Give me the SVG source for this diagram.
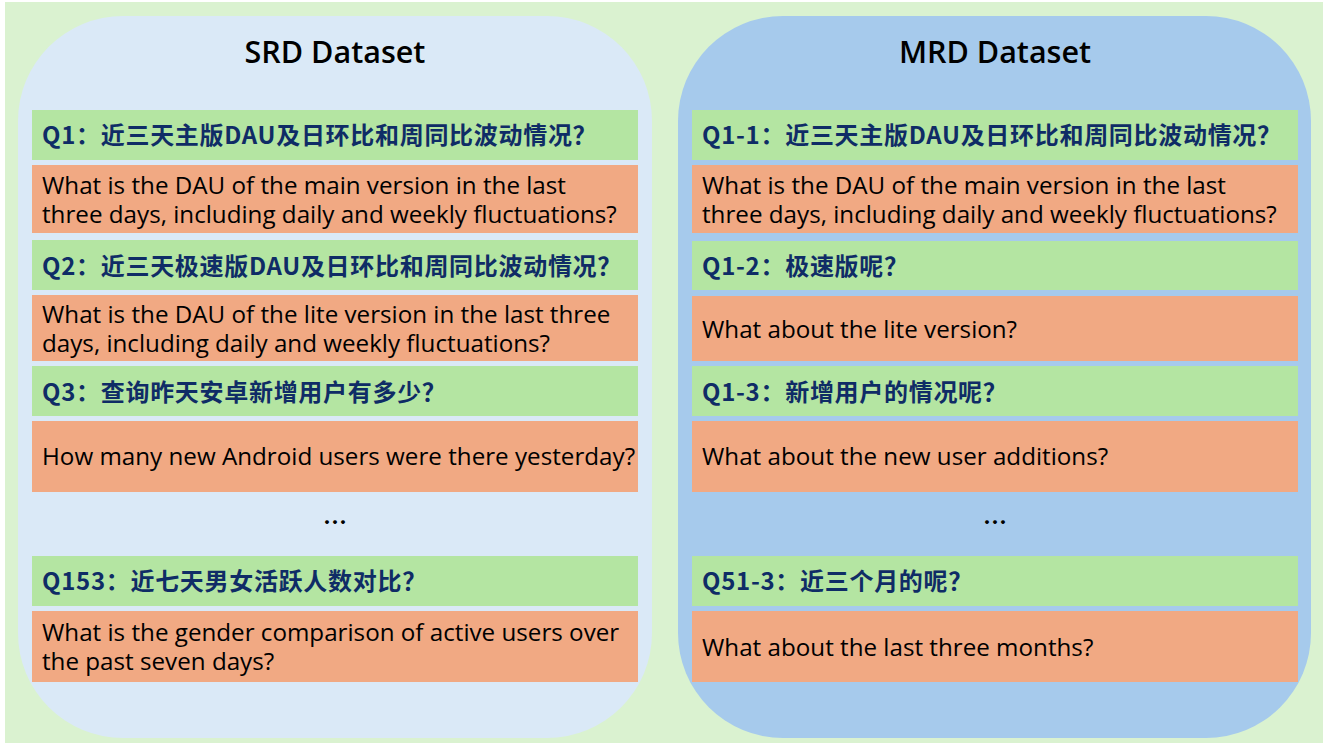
<svg xmlns="http://www.w3.org/2000/svg" width="1325" height="744" viewBox="0 0 1325 744">
<style>
text{font-family:"Noto Sans CJK SC","Noto Sans",sans-serif;}
.title{font-family:"Open Sans","Noto Sans CJK SC",sans-serif;font-size:30.5px;font-weight:600;fill:#000;text-anchor:middle;}
.q{fill:#B4E5A2;}
.a{fill:#F1A983;}
.qt{font-size:24px;font-weight:bold;fill:#0F2C66;letter-spacing:0.7px;}
.at{font-family:"Open Sans","Noto Sans CJK SC",sans-serif;font-size:24.2px;fill:#000;}
.dots{font-size:24px;font-weight:bold;fill:#000;text-anchor:middle;}
</style>
<rect x="0" y="0" width="1325" height="744" fill="#FFFFFF"/>
<rect x="5" y="2" width="1318" height="741" fill="#DAF2D0"/>
<g id="srd">
<rect x="18" y="16" width="634" height="722" rx="105" ry="105" fill="#DAE9F7"/>
<text class="title" x="335" y="63">SRD Dataset</text>
<g id="srd-q1"><rect class="q" x="32" y="110" width="606" height="50"/><text class="qt" x="42" y="144">Q1：近三天主版DAU及日环比和周同比波动情况？</text></g>
<g id="srd-a1"><rect class="a" x="32" y="165" width="606" height="68"/><text class="at"><tspan x="42" y="194">What is the DAU of the main version in the last</tspan><tspan x="42" y="223">three days, including daily and weekly fluctuations?</tspan></text></g>
<g id="srd-q2"><rect class="q" x="32" y="240" width="606" height="50"/><text class="qt" x="42" y="275">Q2：近三天极速版DAU及日环比和周同比波动情况？</text></g>
<g id="srd-a2"><rect class="a" x="32" y="295" width="606" height="66"/><text class="at"><tspan x="42" y="323">What is the DAU of the lite version in the last three</tspan><tspan x="42" y="352">days, including daily and weekly fluctuations?</tspan></text></g>
<g id="srd-q3"><rect class="q" x="32" y="366" width="606" height="50"/><text class="qt" x="42" y="401">Q3：查询昨天安卓新增用户有多少？</text></g>
<g id="srd-a3"><rect class="a" x="32" y="421" width="606" height="71"/><text class="at" x="42" y="465">How many new Android users were there yesterday?</text></g>
<text class="dots" x="335" y="531">…</text>
<g id="srd-q153"><rect class="q" x="32" y="556" width="606" height="50"/><text class="qt" x="42" y="590">Q153：近七天男女活跃人数对比？</text></g>
<g id="srd-a153"><rect class="a" x="32" y="611" width="606" height="71"/><text class="at"><tspan x="42" y="641">What is the gender comparison of active users over</tspan><tspan x="42" y="670">the past seven days?</tspan></text></g>
</g>
<g id="mrd">
<rect x="678" y="16" width="633" height="722" rx="105" ry="105" fill="#A6CAEC"/>
<text class="title" x="995" y="63">MRD Dataset</text>
<g id="mrd-q11"><rect class="q" x="692" y="110" width="606" height="50"/><text class="qt" x="702" y="144">Q1-1：近三天主版DAU及日环比和周同比波动情况？</text></g>
<g id="mrd-a11"><rect class="a" x="692" y="165" width="606" height="68"/><text class="at"><tspan x="702" y="194">What is the DAU of the main version in the last</tspan><tspan x="702" y="223">three days, including daily and weekly fluctuations?</tspan></text></g>
<g id="mrd-q12"><rect class="q" x="692" y="241" width="606" height="49"/><text class="qt" x="702" y="275">Q1-2：极速版呢？</text></g>
<g id="mrd-a12"><rect class="a" x="692" y="296" width="606" height="65"/><text class="at" x="702" y="338">What about the lite version?</text></g>
<g id="mrd-q13"><rect class="q" x="692" y="366" width="606" height="50"/><text class="qt" x="702" y="401">Q1-3：新增用户的情况呢？</text></g>
<g id="mrd-a13"><rect class="a" x="692" y="421" width="606" height="71"/><text class="at" x="702" y="465">What about the new user additions?</text></g>
<text class="dots" x="995" y="531">…</text>
<g id="mrd-q513"><rect class="q" x="692" y="556" width="606" height="50"/><text class="qt" x="702" y="590">Q51-3：近三个月的呢？</text></g>
<g id="mrd-a513"><rect class="a" x="692" y="611" width="606" height="71"/><text class="at" x="702" y="656">What about the last three months?</text></g>
</g>
</svg>
